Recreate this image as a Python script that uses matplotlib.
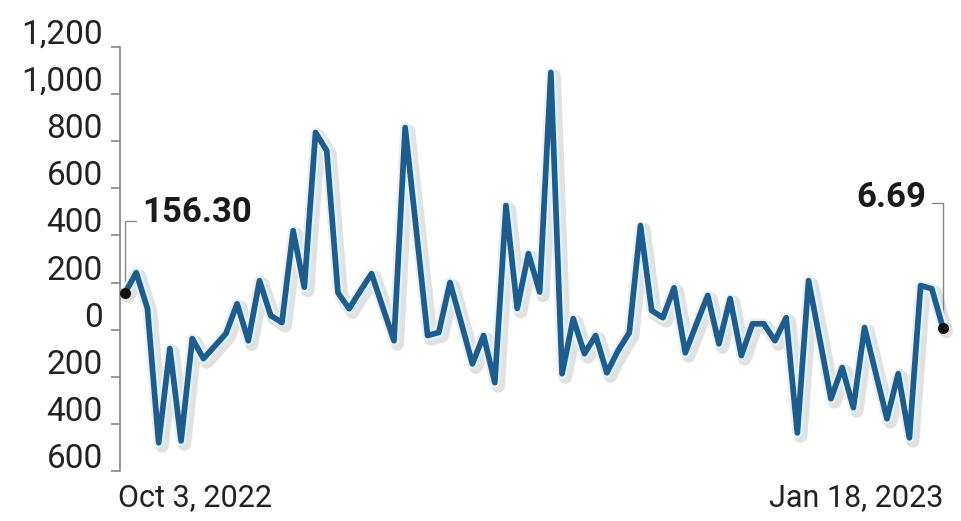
import matplotlib
matplotlib.use("Agg")
import matplotlib.pyplot as plt
import matplotlib.patheffects as pe
from matplotlib.transforms import ScaledTranslation
import numpy as np

# daily values, Oct 3, 2022 -> Jan 18, 2023 (trading days)
values = [
    156.30, 242, 90, -480, -80, -472, -38, -123, -70, -17,
    110, -47, 208, 60, 30, 420, 180, 837, 760, 157,
    89, 165, 238, 95, -47, 858, 420, -25, -12, 200,
    30, -145, -25, -225, 527, 90, 323, 160, 1092, -187,
    47, -102, -25, -183, -89, -13, 442, 81, 51, 178,
    -98, 25, 145, -60, 132, -110, 25, 25, -47, 51,
    -438, 208, -40, -293, -161, -331, 9, -185, -378, -187,
    -459, 187, 174, 6.69,
]
x_labels = ["Oct 3, 2022", "Jan 18, 2023"]
y_ticks = [-600, -400, -200, 0, 200, 400, 600, 800, 1000, 1200]
start_label = "156.30"
end_label = "6.69"

plt.rcParams['font.family'] = ['Roboto', 'DejaVu Sans']

x = np.arange(len(values))

fig = plt.figure(figsize=(9.61, 5.21), dpi=100)
ax = fig.add_axes([120 / 961, 50 / 521, 835 / 961, 424 / 521])

line_color = '#1d5c8e'
ax.plot(x, values, color=line_color, lw=4.1, solid_joinstyle='round',
        solid_capstyle='round', zorder=3, clip_on=False,
        path_effects=[
            pe.SimpleLineShadow(offset=(2.5, -2.5), shadow_color='#777777',
                                alpha=0.22, linewidth=9.5),
            pe.Stroke(linewidth=7.3, foreground='#e4f2fb'),
            pe.Normal(),
        ])

# end points
ax.plot([x[0], x[-1]], [values[0], values[-1]], 'o', color='#111111',
        ms=7, zorder=4, clip_on=False)

# callouts with bracket leader lines
ax.annotate(start_label, xy=(x[0], values[0]), xytext=(12, 51),
            textcoords='offset points', ha='left', va='baseline',
            fontsize=25, fontweight='bold', color='#1a1a1a',
            arrowprops=dict(arrowstyle='-', color='#888888', lw=1,
                            connectionstyle='angle,angleA=0,angleB=90,rad=0',
                            relpos=(0, 0.25), shrinkA=2, shrinkB=0),
            zorder=2)
ax.annotate(end_label, xy=(x[-1], values[-1]), xytext=(-12, 87),
            textcoords='offset points', ha='right', va='baseline',
            fontsize=25, fontweight='bold', color='#1a1a1a',
            arrowprops=dict(arrowstyle='-', color='#888888', lw=1,
                            connectionstyle='angle,angleA=0,angleB=90,rad=0',
                            relpos=(1, 0.35), shrinkA=2, shrinkB=0),
            zorder=2)

ax.set_xlim(-0.45, len(values) - 1 + 1.07)
ax.set_ylim(-600, 1200)

ax.set_yticks(y_ticks)
ax.set_yticklabels([f"{abs(v):,}" for v in y_ticks])
ax.tick_params(axis='y', direction='out', length=6.5, width=1.2,
               color='#888888', pad=6, labelsize=24, labelcolor='#222222')
up = ScaledTranslation(0, 3 / 100, fig.dpi_scale_trans)
for lab in ax.get_yticklabels():
    lab.set_va('baseline')
    lab.set_transform(lab.get_transform() + up)

ax.set_xticks([x[0], x[-1]])
ax.set_xticklabels(x_labels)
ax.tick_params(axis='x', length=0, pad=9, labelsize=22, labelcolor='#222222')
xl = ax.get_xticklabels()
xl[0].set_ha('left')
xl[0].set_transform(xl[0].get_transform() + ScaledTranslation(-7 / 100, 0, fig.dpi_scale_trans))
xl[1].set_ha('right')

for s in ['top', 'right', 'bottom']:
    ax.spines[s].set_visible(False)
ax.spines['left'].set_color('#888888')
ax.spines['left'].set_linewidth(1.2)

fig.savefig('out.png', dpi=100, facecolor='white')
